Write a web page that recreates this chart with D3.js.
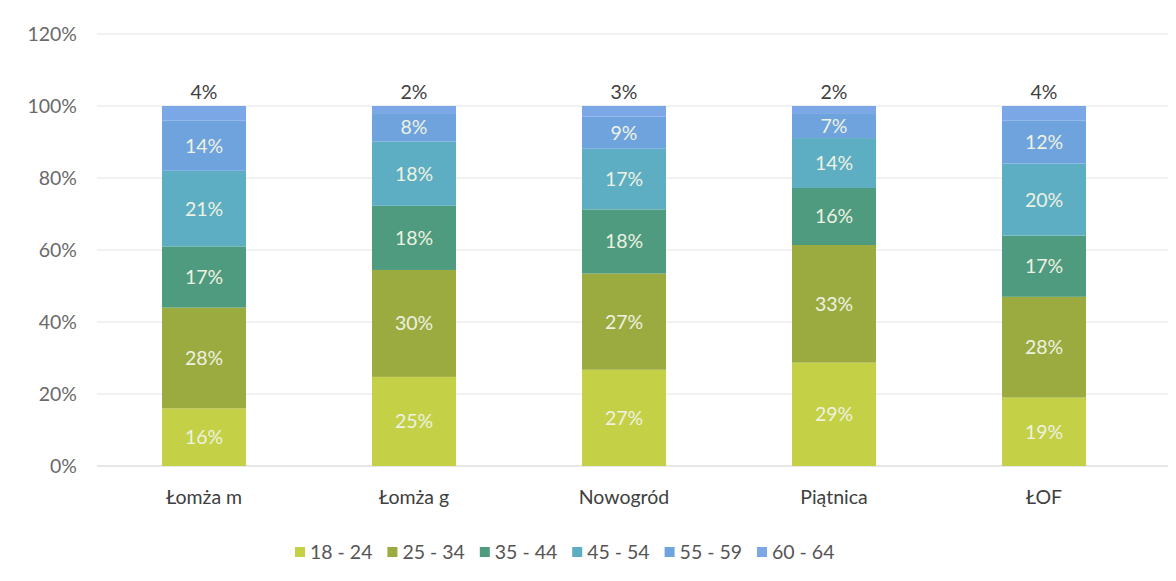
<!DOCTYPE html>
<html>
<head>
<meta charset="utf-8">
<script src="https://cdn.jsdelivr.net/npm/d3@7"></script>
<style>
  html, body { margin: 0; padding: 0; background: #ffffff; }
  svg { display: block; font-family: Lato, "Open Sans", sans-serif; }
</style>
</head>
<body>
<svg id="chart" width="1176" height="581"></svg>
<script>
const categories = ["Łomża m", "Łomża g", "Nowogród", "Piątnica", "ŁOF"];
const seriesNames = ["18 - 24", "25 - 34", "35 - 44", "45 - 54", "55 - 59", "60 - 64"];
const v18_24 = [16, 25, 27, 29, 19];
const v25_34 = [28, 30, 27, 33, 28];
const v35_44 = [17, 18, 18, 16, 17];
const v45_54 = [21, 18, 17, 14, 20];
const v55_59 = [14, 8, 9, 7, 12];
const v60_64 = [4, 2, 3, 2, 4];
const yTicks = [0, 0.2, 0.4, 0.6, 0.8, 1.0, 1.2];
const colors = ["#c4d045", "#9bab40", "#4f9b7f", "#5daec2", "#6ea3de", "#7ba7e6"];

const seriesValues = [v18_24, v25_34, v35_44, v45_54, v55_59, v60_64];
const rows = categories.map((c, i) => {
  const r = { cat: c };
  seriesNames.forEach((s, k) => r[s] = seriesValues[k][i]);
  return r;
});

const FS = 19.5;
const svg = d3.select("#chart");
const x = d3.scaleBand().domain(categories).range([99, 1149]).paddingInner(0.6).paddingOuter(0.3);
const y = d3.scaleLinear().domain([0, 1.2]).range([466, 34]);

// gridlines
svg.append("g").selectAll("line").data(yTicks).join("line")
  .attr("x1", 97).attr("x2", 1168)
  .attr("y1", d => y(d)).attr("y2", d => y(d))
  .attr("stroke", d => d === 0 ? "#d0d0d0" : "#e3e3e3").attr("stroke-width", 1.2);

// y axis labels
const yAxis = d3.axisLeft(y).tickValues(yTicks).tickFormat(d3.format(".0%")).tickSize(0).tickPadding(0);
const ya = svg.append("g").attr("transform", "translate(77,0)").call(yAxis);
ya.select(".domain").remove();
ya.selectAll("text").attr("font-size", FS).attr("fill", "#6a6a6a").attr("font-family", "Lato, sans-serif");

const stack = d3.stack().keys(seriesNames).offset(d3.stackOffsetExpand);
const stacked = stack(rows);

const g = svg.append("g");
stacked.forEach((layer, k) => {
  g.append("g").selectAll("rect").data(layer).join("rect")
    .attr("x", d => x(d.data.cat))
    .attr("width", x.bandwidth())
    .attr("y", d => y(d[1]))
    .attr("height", d => y(d[0]) - y(d[1]))
    .attr("fill", colors[k]);
});

// labels
stacked.forEach((layer, k) => {
  const last = k === seriesNames.length - 1;
  g.append("g").selectAll("text").data(layer).join("text")
    .attr("x", d => x(d.data.cat) + x.bandwidth() / 2)
    .attr("y", d => last ? y(1) - 7 : (y(d[0]) + y(d[1])) / 2 + 7)
    .attr("text-anchor", "middle")
    .attr("font-size", FS)
    .attr("fill", last ? "#404040" : "#eef2e2")
    .text(d => d.data[layer.key] + "%");
});

// x axis labels
const xAxis = d3.axisBottom(x).tickSize(0).tickPadding(0);
const xa = svg.append("g").attr("transform", "translate(0,490)").call(xAxis);
xa.select(".domain").remove();
xa.selectAll("text").attr("font-size", FS).attr("fill", "#404040").attr("font-family", "Lato, sans-serif");

// legend
const legendX = d3.scalePoint().domain(seriesNames).range([295, 757]);
const lg = svg.append("g").selectAll("g").data(seriesNames).join("g")
  .attr("transform", d => `translate(${legendX(d)},546)`);
lg.append("rect").attr("width", 10).attr("height", 10).attr("y", 1)
  .attr("fill", (d, i) => colors[i]);
lg.append("text").attr("x", 15).attr("y", 13).attr("font-size", FS).attr("fill", "#555").text(d => d);
</script>
</body>
</html>
